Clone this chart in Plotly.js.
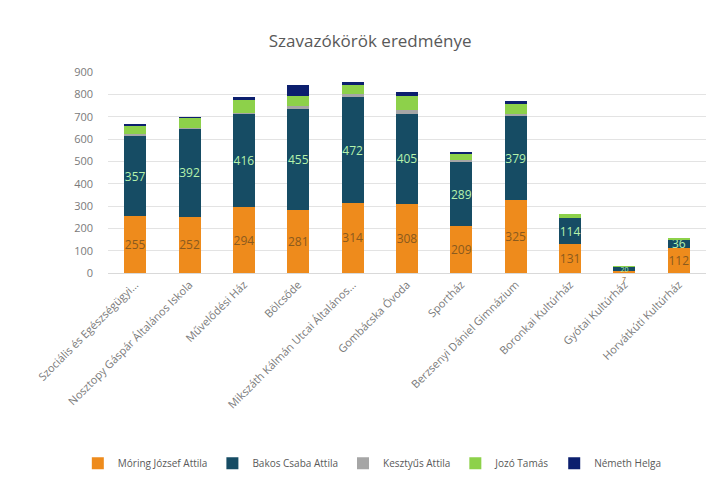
<!DOCTYPE html>
<html>
<head>
<meta charset="utf-8">
<script src="https://cdn.plot.ly/plotly-3.0.1.min.js"></script>
<style>html,body{margin:0;padding:0;background:#fff;}#chart{width:716px;height:480px;}</style>
</head>
<body>
<div id="chart"></div>
<script>
const categories = ["Szociális és Egészségügyi...", "Nosztopy Gáspár Általános Iskola", "Művelődési Ház", "Bölcsőde", "Mikszáth Kálmán Utcai Általános...", "Gombácska Óvoda", "Sportház", "Berzsenyi Dániel Gimnázium", "Boronkai Kultúrház", "Gyótai Kultúrház", "Horvátkúti Kultúrház"];
const moring   = [255, 252, 294, 281, 314, 308, 209, 325, 131, 7, 112];
const bakos    = [357, 392, 416, 455, 472, 405, 289, 379, 114, 20, 36];
const kesztyus = [9, 4, 8, 10, 14, 17, 7, 6, 3, 1, 1];
const jozo     = [38, 48, 58, 48, 44, 62, 28, 46, 15, 4, 8];
const nemeth   = [6, 2, 12, 46, 10, 18, 10, 12, 1, 1, 1];
const seriesNames = ["Móring József Attila", "Bakos Csaba Attila", "Kesztyűs Attila", "Jozó Tamás", "Németh Helga"];
const yTicks = [0, 100, 200, 300, 400, 500, 600, 700, 800, 900];

const colors = ["#EE8B1C", "#164C64", "#A6A6A6", "#8DD14A", "#0C1F6E"];
const values = [moring, bakos, kesztyus, jozo, nemeth];
const labelColors = ["#8A5A1E", "#B5F2AC", null, null, null];
const SMALL = 15;

const traces = values.map((v, i) => {
  const t = {
    type: "bar",
    name: seriesNames[i],
    x: categories,
    y: v,
    marker: {color: colors[i]},
    hoverinfo: "skip"
  };
  if (labelColors[i]) {
    t.text = v.map(String);
    t.textposition = v.map(x => (i === 0 && x < SMALL) ? "none" : "inside");
    t.insidetextanchor = "middle";
    t.constraintext = "none";
    t.textangle = 0;
    t.textfont = {family: "Open Sans, sans-serif", size: v.map(x => x < 30 ? 7 : 12), color: labelColors[i]};
  } else {
    t.textposition = "none";
  }
  return t;
});

// labels of tiny orange segments sit just under the axis, as in the reference
const annotations = [];
moring.forEach((x, k) => {
  if (x < SMALL) {
    annotations.push({
      x: categories[k], y: 0, xref: "x", yref: "y",
      text: String(x), showarrow: false, yanchor: "top",
      font: {family: "Open Sans, sans-serif", size: 7, color: labelColors[0]}
    });
  }
});

const layout = {
  width: 716,
  height: 480,
  barmode: "stack",
  bargap: 0.595,
  paper_bgcolor: "#ffffff",
  plot_bgcolor: "#ffffff",
  margin: {l: 108, r: 10, t: 72, b: 207},
  font: {family: "Open Sans, sans-serif", color: "#595959", size: 11},
  title: {
    text: "Szavazókörök eredménye",
    font: {size: 17, color: "#595959"},
    xref: "container", x: 0.517, xanchor: "center",
    yref: "container", y: 0.915, yanchor: "middle"
  },
  xaxis: {
    type: "category",
    tickangle: -45,
    tickfont: {size: 11, color: "#7a7a7a"},
    showgrid: false,
    showline: true,
    linecolor: "#d9d9d9",
    linewidth: 1,
    ticks: ""
  },
  yaxis: {
    range: [0, 900],
    tickvals: yTicks,
    ticktext: yTicks.map(String),
    tickfont: {size: 11, color: "#7a7a7a"},
    showgrid: true,
    gridcolor: "#e3e3e3",
    gridwidth: 1,
    zeroline: false,
    showline: false,
    ticks: "",
    ticklabelstandoff: 14
  },
  annotations: annotations,
  showlegend: true,
  legend: {
    orientation: "h",
    xref: "container", x: 0.52, xanchor: "center",
    yref: "container", y: 0.035, yanchor: "middle",
    font: {size: 10, color: "#595959"},
    itemwidth: 30,
    traceorder: "normal"
  }
};

Plotly.newPlot("chart", traces, layout, {staticPlot: true, displayModeBar: false});
</script>
</body>
</html>
